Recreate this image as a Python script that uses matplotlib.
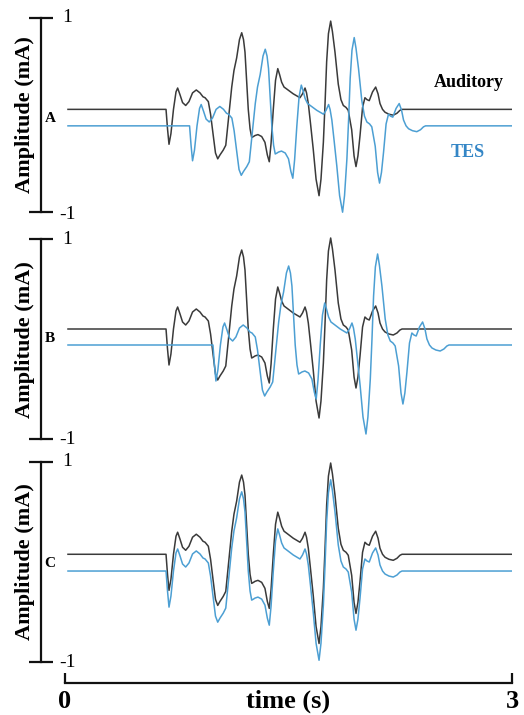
import matplotlib
matplotlib.use("Agg")
import matplotlib.pyplot as plt
import numpy as np

plt.rcParams["font.family"] = ["Liberation Serif", "DejaVu Serif"]

# auditory waveform (time in s, amplitude relative to baseline in mA)
wave_t = [0.020, 0.678, 0.688, 0.698, 0.711, 0.728, 0.745, 0.756, 0.772, 0.789,
          0.810, 0.832, 0.856, 0.881, 0.906, 0.926, 0.940, 0.962, 0.977, 0.995,
          1.010, 1.025, 1.040, 1.062, 1.079, 1.097, 1.119, 1.134, 1.152, 1.171,
          1.186, 1.198, 1.208, 1.230, 1.242, 1.253, 1.265, 1.275, 1.295, 1.320,
          1.342, 1.358, 1.371, 1.383, 1.398, 1.413, 1.428, 1.440, 1.454, 1.470,
          1.488, 1.532, 1.577, 1.594, 1.611, 1.621, 1.633, 1.648, 1.666, 1.685,
          1.705, 1.718, 1.734, 1.745, 1.756, 1.768, 1.783, 1.795, 1.812, 1.834,
          1.852, 1.868, 1.886, 1.901, 1.924, 1.940, 1.953, 1.966, 1.980, 1.997,
          2.013, 2.027, 2.042, 2.064, 2.085, 2.101, 2.114, 2.131, 2.148, 2.174,
          2.203, 2.228, 2.248, 2.262, 3.000]
wave_a = [0.00, 0.00, -0.20, -0.36, -0.25, 0.00, 0.18, 0.22, 0.15, 0.07,
          0.04, 0.08, 0.17, 0.20, 0.17, 0.13, 0.12, 0.08, -0.05, -0.27,
          -0.45, -0.51, -0.47, -0.42, -0.37, -0.10, 0.23, 0.40, 0.53, 0.72,
          0.79, 0.72, 0.59, 0.00, -0.20, -0.29, -0.28, -0.27, -0.26, -0.28,
          -0.34, -0.47, -0.54, -0.35, 0.00, 0.30, 0.42, 0.36, 0.28, 0.23,
          0.21, 0.16, 0.12, 0.16, 0.22, 0.17, 0.06, -0.15, -0.41, -0.72,
          -0.89, -0.72, -0.34, 0.05, 0.49, 0.78, 0.91, 0.80, 0.59, 0.26,
          0.10, 0.04, 0.02, -0.01, -0.21, -0.48, -0.59, -0.48, -0.27, 0.02,
          0.12, 0.10, 0.09, 0.18, 0.23, 0.16, 0.06, 0.00, -0.03, -0.05,
          -0.06, -0.04, -0.01, 0.00, 0.00]

panels = ["A", "B", "C"]
tes_delay = [0.158, 0.315, 0.0]        # s, TES lag behind auditory
aud_offset = [0.055, 0.103, 0.077]      # baseline of black trace
tes_offset = [-0.115, -0.057, -0.090]   # baseline of blue trace

BLACK = "#3a3a3a"
BLUE = "#4c9fd3"
TES_TXT = "#3486c6"

fig = plt.figure(figsize=(5.24, 7.15), dpi=100)
W, H = 524, 715

# panel boxes in pixels: (top, bottom) of the axes (ylim -1.1..1.1)
boxes = [(8.0, 221.4), (229.3, 449.3), (451.7, 672.3)]
x_left, x_right = 41, 512
t_left = -24 / 149

t = np.array(wave_t)
a = np.array(wave_a)

for i, name in enumerate(panels):
    top, bot = boxes[i]
    ax = fig.add_axes([x_left / W, 1 - bot / H, (x_right - x_left) / W, (bot - top) / H])
    ax.set_facecolor("none")
    ax.set_xlim(t_left, 3.0)
    ax.set_ylim(-1.1, 1.1)

    ax.plot(t, a + aud_offset[i], color=BLACK, lw=1.1)
    tt = np.concatenate([[t[0]], t[1:] + tes_delay[i]])
    ax.plot(tt, a + tes_offset[i], color=BLUE, lw=1.1)

    for s in ["top", "right", "bottom"]:
        ax.spines[s].set_visible(False)
    ax.spines["left"].set_bounds(-1, 1)
    ax.spines["left"].set_linewidth(1.6)
    ax.spines["left"].set_color("#111111")
    ax.set_xticks([])
    ax.set_yticks([-1, 1])
    ax.tick_params(axis="y", direction="inout", length=17, width=1.6,
                   color="#111111", labelleft=False)

    ax.text(-0.02, 1, "1", fontsize=14, ha="left", va="center")
    ax.text(-0.04, -1.03 if i == 0 else -1, "-1", fontsize=14, ha="left", va="center")

    ax.set_ylabel("Amplitude (mA)", fontsize=16, fontweight="bold")
    ax.yaxis.set_label_coords(-0.013, 0.5)
    ax.text(-0.10, (aud_offset[i] + tes_offset[i]) / 2 - 0.01, name,
            fontsize=11, fontweight="bold", ha="center", va="center")

    if i == 0:
        ax.text(2.71, 0.33, "Auditory", fontsize=13, fontweight="bold",
                color="black", ha="center", va="center")
        ax.text(2.70, -0.39, "TES", fontsize=13, fontweight="bold",
                color=TES_TXT, ha="center", va="center")

# time axis
tx = fig.add_axes([65 / W, 1 - 683 / H, (512 - 65) / W, 0.01])
tx.set_facecolor("none")
tx.set_xlim(0, 3)
tx.set_yticks([])
for s in ["top", "right", "left"]:
    tx.spines[s].set_visible(False)
tx.spines["bottom"].set_linewidth(1.6)
tx.spines["bottom"].set_color("#111111")
tx.set_xticks([0, 3])
tx.set_xticklabels(["0", "3"], fontsize=19, fontweight="bold")
tx.tick_params(axis="x", direction="in", length=7.5, width=1.6, color="#111111", pad=5)
tx.annotate("time (s)", xy=(1.5, 0), xycoords=tx.get_xaxis_transform(),
            xytext=(0, -5), textcoords="offset points", ha="center", va="top",
            fontsize=19, fontweight="bold")

fig.savefig("out.png", dpi=100)
